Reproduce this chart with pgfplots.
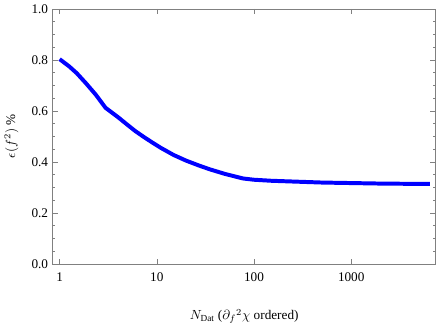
\documentclass[border=0pt]{standalone}
\usepackage{fontspec}
\setmainfont{Liberation Serif}
\usepackage{pgfplots}
\pgfplotsset{compat=1.18}
\begin{document}
\begin{tikzpicture}
\begin{axis}[
  scale only axis,
  width=289.5pt, height=192.75pt,
  xmode=log, log basis x=10,
  xmin=0.85, xmax=7400,
  ymin=0, ymax=1,
  xtick={1,10,100,1000},
  xticklabels={1,10,100,1000},
  ytick={0,0.2,0.4,0.6,0.8,1.0},
  yticklabels={0.0,0.2,0.4,0.6,0.8,1.0},
  minor ytick={0.05,0.1,0.15,0.25,0.3,0.35,0.45,0.5,0.55,0.65,0.7,0.75,0.85,0.9,0.95},
  tick align=inside,
  major tick length=4pt, minor tick length=2pt,
  axis line style={gray},
  every tick/.style={gray},
  tick label style={font=\fontsize{10}{12}\selectfont, black},
  xticklabel style={yshift=-3pt},
  /pgf/number format/assume math mode=true,
  label style={font=\fontsize{10}{12}\selectfont},
  xlabel={$N_{\mathrm{Dat}}$ ($\partial_f{}^2\chi$ ordered)},
  ylabel={$\epsilon(f^2)$ \%},
  xlabel style={yshift=-14pt},
  ylabel style={yshift=3pt},
]
\addplot[blue, line width=3pt] coordinates {
(1,0.803) (1.25,0.775) (1.5,0.748) (1.86,0.709) (2.35,0.664) (2.97,0.612) (4,0.575) (5,0.545) (6,0.521) (7.4,0.497) (8.9,0.477) (11,0.455) (14.9,0.427) (20,0.405) (27,0.386) (35,0.371) (50,0.353) (77,0.335) (100,0.330) (150,0.326) (250,0.323) (500,0.319) (1000,0.317) (2000,0.315) (4000,0.314) (6450,0.314)
};
\path (rel axis cs:0,0) ++(-36pt,-39.75pt);
\path (rel axis cs:1,1) ++(1.5pt,12.75pt);
\end{axis}
\end{tikzpicture}
\end{document}
